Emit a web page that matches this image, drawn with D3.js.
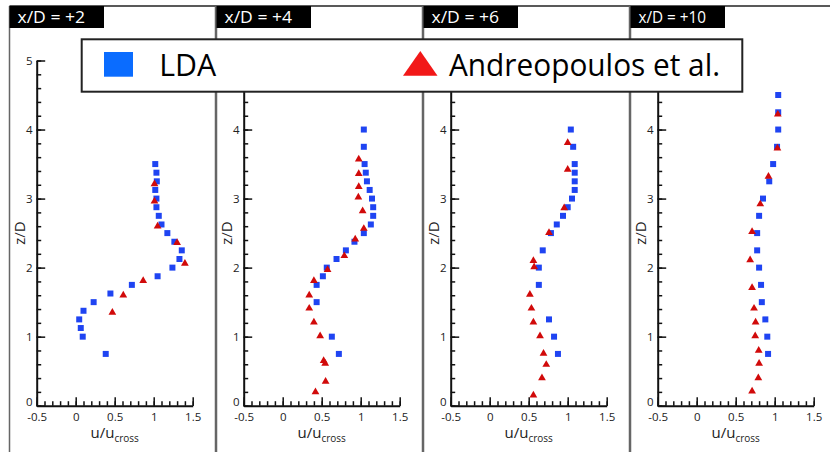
<!DOCTYPE html>
<html>
<head>
<meta charset="utf-8">
<script src="https://cdn.jsdelivr.net/npm/d3@7"></script>
<style>
  html, body { margin: 0; padding: 0; background: #fff; }
  svg { display: block; }
  text { font-family: "Open Sans", "DejaVu Sans", sans-serif; }
</style>
</head>
<body>
<svg id="chart" width="830" height="452"></svg>
<script>
// Streamwise stations downstream of the jet
const stationLabels = ["x/D = +2", "x/D = +4", "x/D = +6", "x/D = +10"];

// LDA measurements: height z/D and velocity ratio u/u_cross per station
const ldaZ = [
  [3.5, 3.375, 3.25, 3.125, 3.0, 2.875, 2.75, 2.625, 2.5, 2.375, 2.25, 2.125, 2.0, 1.875, 1.75, 1.625, 1.5, 1.375, 1.25, 1.125, 1.0, 0.75],
  [4.0, 3.75, 3.5, 3.375, 3.25, 3.125, 3.0, 2.875, 2.75, 2.625, 2.5, 2.375, 2.25, 2.125, 2.0, 1.875, 1.75, 1.5, 1.0, 0.75],
  [4.0, 3.75, 3.5, 3.375, 3.25, 3.125, 3.0, 2.875, 2.75, 2.625, 2.5, 2.25, 2.0, 1.75, 1.25, 1.0, 0.75],
  [4.5, 4.25, 4.0, 3.75, 3.5, 3.25, 3.0, 2.75, 2.5, 2.25, 2.0, 1.75, 1.5, 1.25, 1.0, 0.75]
];
const ldaU = [
  [1.02, 1.035, 1.04, 1.02, 1.035, 1.035, 1.065, 1.10, 1.175, 1.265, 1.36, 1.33, 1.24, 1.05, 0.72, 0.445, 0.23, 0.10, 0.045, 0.065, 0.09, 0.385],
  [1.04, 1.04, 1.05, 1.065, 1.08, 1.115, 1.145, 1.16, 1.16, 1.13, 1.04, 0.92, 0.81, 0.69, 0.565, 0.515, 0.435, 0.435, 0.63, 0.72],
  [1.04, 1.07, 1.09, 1.09, 1.09, 1.09, 1.055, 1.0, 0.94, 0.86, 0.785, 0.68, 0.63, 0.63, 0.76, 0.825, 0.875],
  [1.045, 1.045, 1.045, 1.03, 0.98, 0.93, 0.85, 0.80, 0.775, 0.775, 0.80, 0.825, 0.835, 0.88, 0.905, 0.915]
];

// Andreopoulos et al. reference data per station
const refZ = [
  [3.21, 2.96, 2.60, 2.36, 2.06, 1.81, 1.60, 1.35],
  [3.57, 3.36, 3.17, 3.02, 2.82, 2.565, 2.41, 2.17, 1.97, 1.81, 1.60, 1.41, 1.21, 1.01, 0.65, 0.61, 0.35, 0.20],
  [3.81, 3.42, 2.865, 2.505, 2.10, 2.01, 1.61, 1.41, 1.21, 1.01, 0.755, 0.595, 0.40, 0.15],
  [4.22, 3.73, 3.32, 2.92, 2.52, 2.11, 1.71, 1.41, 1.21, 1.01, 0.80, 0.61, 0.40, 0.21]
];
const refU = [
  [1.01, 1.01, 1.05, 1.30, 1.40, 0.865, 0.61, 0.47],
  [0.975, 0.975, 0.975, 0.97, 1.025, 1.04, 0.93, 0.79, 0.575, 0.40, 0.34, 0.34, 0.40, 0.48, 0.525, 0.545, 0.55, 0.42],
  [1.0, 1.0, 0.955, 0.76, 0.56, 0.57, 0.515, 0.535, 0.56, 0.645, 0.69, 0.725, 0.67, 0.56],
  [1.04, 1.035, 0.92, 0.815, 0.71, 0.685, 0.71, 0.735, 0.755, 0.75, 0.795, 0.80, 0.79, 0.71]
];

// Axis ticks
const xTicks = [-0.5, 0, 0.5, 1, 1.5];
const xTickLabels = ["-0.5", "0", "0.5", "1", "1.5"];
const yTicks = [0, 1, 2, 3, 4, 5];
const seriesNames = ["LDA", "Andreopoulos et al."];

const svg = d3.select("#chart");
const W = 830, H = 452;

const panelLeft = 9.5, panelStep = 207, panelTop = 6;
const axisOffset = 27.2, axisWidth = 156;
const yBottom = 405.7, yTop = 60.5;
const legendBottom = 91.7;
const axisFont = "\"Liberation Sans\", Arial, sans-serif";

const yScale = d3.scaleLinear().domain([0, 5]).range([yBottom, yTop]);

const squareColor = "#1f44f2";
const triColor = "#d10a0a";

const square = d3.symbol().type(d3.symbolSquare).size(36);
const triangle = d3.symbol().type(d3.symbolTriangle).size(26);

// top rule across all panels
svg.append("line")
  .attr("x1", panelLeft).attr("x2", W)
  .attr("y1", panelTop).attr("y2", panelTop)
  .attr("stroke", "#222").attr("stroke-width", 1.5);

stationLabels.forEach((label, i) => {
  const L = panelLeft + panelStep * i;
  const g = svg.append("g");

  // panel frame sides
  g.append("line").attr("x1", L).attr("x2", L).attr("y1", panelTop).attr("y2", H)
    .attr("stroke", "#666").attr("stroke-width", 1.5);
  g.append("line").attr("x1", L + 206).attr("x2", L + 206).attr("y1", panelTop).attr("y2", H)
    .attr("stroke", "#666").attr("stroke-width", 1.5);

  // station title tab
  g.append("rect").attr("x", L).attr("y", panelTop).attr("width", 94.5).attr("height", 22)
    .attr("fill", "#000");
  g.append("text").attr("x", L + 8).attr("y", 23.3)
    .attr("fill", "#fff").attr("font-size", 16)
    .attr("textLength", 67.5).attr("lengthAdjust", "spacingAndGlyphs")
    .text(label);

  const x0 = L + axisOffset;
  const xScale = d3.scaleLinear().domain([-0.5, 1.5]).range([x0, x0 + axisWidth]);

  // x axis: minor ticks (no labels) and labelled major ticks, pointing inward
  const xMinor = d3.range(-5, 16).map(k => k / 10);
  g.append("g").attr("transform", `translate(0,${yBottom})`)
    .call(d3.axisBottom(xScale).tickValues(xMinor).tickSizeInner(-4.5).tickSizeOuter(0))
    .call(a => a.select(".domain").remove())
    .call(a => a.selectAll(".tick text").remove());
  g.append("g").attr("transform", `translate(0,${yBottom})`)
    .call(d3.axisBottom(xScale).tickValues(xTicks).tickSizeInner(-8.5).tickSizeOuter(0)
      .tickPadding(7.5).tickFormat((d, k) => xTickLabels[k]));

  // y axis; tick labels that sit beneath the legend box are left out
  const yMinor = d3.range(0, 26).map(k => k / 5);
  g.append("g").attr("transform", `translate(${x0},0)`)
    .call(d3.axisLeft(yScale).tickValues(yMinor).tickSizeInner(-4.5).tickSizeOuter(0))
    .call(a => a.select(".domain").remove())
    .call(a => a.selectAll(".tick text").remove());
  const yAx = g.append("g").attr("transform", `translate(${x0},0)`)
    .call(d3.axisLeft(yScale).tickValues(yTicks).tickSizeInner(-8.5).tickSizeOuter(0)
      .tickPadding(4).tickFormat(d3.format("d")));
  yAx.selectAll(".tick").filter(d => i > 0 && yScale(d) < legendBottom).select("text").remove();
  // lift the zero label clear of the x-axis labels below it
  yAx.selectAll(".tick").filter(d => d === 0).select("text").attr("dy", "0em");

  g.selectAll(".tick line").attr("stroke", "#111").attr("stroke-width", 1.5);
  g.selectAll(".domain").attr("stroke", "#111").attr("stroke-width", 2);
  g.selectAll(".tick text").attr("font-size", 11.5).attr("fill", "#222")
    .attr("font-family", axisFont);

  // axis titles
  const xt = g.append("text").attr("x", x0 + axisWidth / 2).attr("y", 438)
    .attr("text-anchor", "middle").attr("fill", "#222").attr("font-size", 15)
    .attr("font-family", axisFont);
  xt.append("tspan").text("u/u");
  xt.append("tspan").attr("font-size", 10).attr("dy", 4).text("cross");

  g.append("text")
    .attr("transform", `translate(${L + 15.5},${(yBottom + yTop) / 2}) rotate(-90)`)
    .attr("text-anchor", "middle").attr("fill", "#222").attr("font-size", 15)
    .attr("font-family", axisFont)
    .text("z/D");

  // LDA squares
  g.append("g").selectAll("path")
    .data(d3.range(ldaZ[i].length))
    .join("path")
    .attr("d", square)
    .attr("transform", k => `translate(${xScale(ldaU[i][k])},${yScale(ldaZ[i][k])})`)
    .attr("fill", squareColor);

  // reference triangles
  g.append("g").selectAll("path")
    .data(d3.range(refZ[i].length))
    .join("path")
    .attr("d", triangle)
    .attr("transform", k => `translate(${xScale(refU[i][k])},${yScale(refZ[i][k])})`)
    .attr("fill", triColor);
});

// legend box
const lg = svg.append("g");
lg.append("rect").attr("x", 81.7).attr("y", 39.3).attr("width", 660.6).attr("height", legendBottom - 39.3)
  .attr("fill", "#fff").attr("stroke", "#222").attr("stroke-width", 2);
lg.append("rect").attr("x", 104).attr("y", 52).attr("width", 29).attr("height", 24.7)
  .attr("fill", "#0a6cff");
lg.append("text").attr("x", 159.2).attr("y", 75.7).attr("font-size", 31).attr("fill", "#000")
  .attr("textLength", 57).attr("lengthAdjust", "spacingAndGlyphs")
  .text(seriesNames[0]);
lg.append("path")
  .attr("d", d3.line()([[403, 75.7], [437.5, 75.7], [420.3, 51]]) + "Z")
  .attr("fill", "#f21818");
lg.append("text").attr("x", 449).attr("y", 75.7).attr("font-size", 31).attr("fill", "#000")
  .attr("textLength", 271).attr("lengthAdjust", "spacingAndGlyphs")
  .text(seriesNames[1]);
</script>
</body>
</html>
